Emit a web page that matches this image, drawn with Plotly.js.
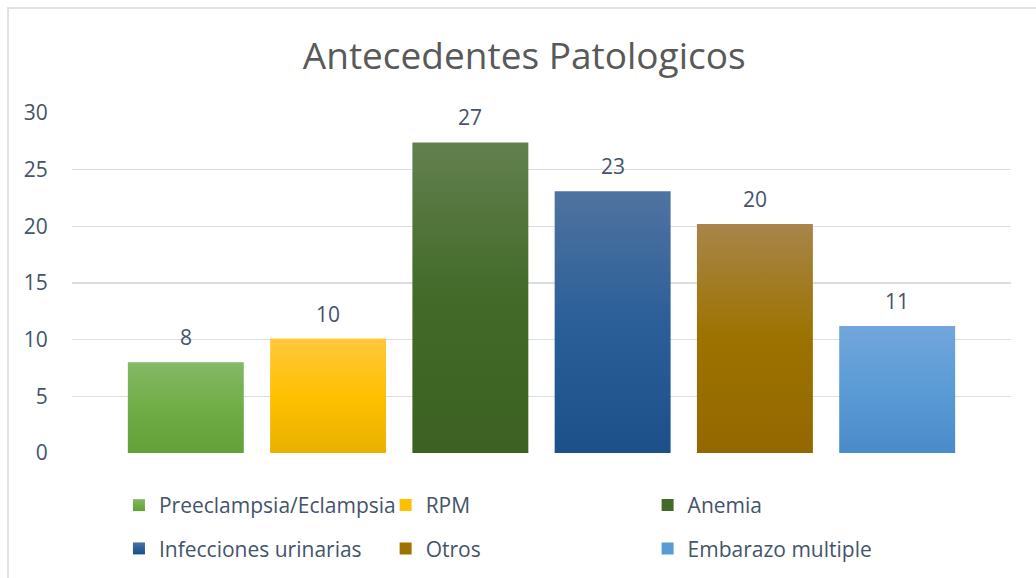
<!DOCTYPE html>
<html>
<head>
<meta charset="utf-8">
<script src="https://cdn.plot.ly/plotly-3.0.1.min.js"></script>
<style>
html,body{margin:0;padding:0;background:#fff;}
#wrap{position:relative;width:1036px;height:578px;overflow:hidden;}
#chart{position:absolute;left:0;top:0;width:1036px;height:578px;}
#frame{position:absolute;left:7px;top:7px;width:1100px;height:700px;border-top:2px solid #dfe3e9;border-left:2px solid #dfe3e9;pointer-events:none;}
</style>
</head>
<body>
<div id="wrap"><div id="chart"></div><div id="frame"></div></div>
<script>
// ---- data ----
const categories = ["Preeclampsia/Eclampsia", "RPM", "Anemia", "Infecciones urinarias", "Otros", "Embarazo multiple"];
const values = [8, 10.1, 27.4, 23.1, 20.2, 11.2];
const labels = ["8", "10", "27", "23", "20", "11"];
const yTicks = [0, 5, 10, 15, 20, 25, 30];

// ---- styles (top, middle, bottom of each bar gradient) ----
const gradients = [
  ["#85b967", "#70ad47", "#63a036"],
  ["#ffc83e", "#ffc000", "#e8b100"],
  ["#62804f", "#436a29", "#3c6122"],
  ["#4f73a0", "#2b5f98", "#1b5089"],
  ["#a8854a", "#9d7200", "#946800"],
  ["#72a6dc", "#5b9bd5", "#4a8aca"]
];
const legendIds = ["legend", "legend2", "legend3"];
const txt = "#44546a";
const font = "Open Sans, Liberation Sans, sans-serif";

const traces = categories.map((c, i) => ({
  type: "bar",
  x: [c],
  y: [values[i]],
  name: c,
  width: 0.815,
  marker: {color: gradients[i][1], line: {width: 0}},
  legend: legendIds[i % 3],
  legendgroup: "g" + i,
  hoverinfo: "skip"
}));

const annotations = categories.map((c, i) => ({
  x: c, y: values[i], text: labels[i], showarrow: false,
  xref: "x", yref: "y", yanchor: "bottom", yshift: 9,
  font: {family: font, size: 21, color: txt}
}));

const legendBase = {
  orientation: "v", yanchor: "top", y: -0.094, xanchor: "left",
  font: {family: font, size: 21, color: txt},
  bgcolor: "rgba(0,0,0,0)", tracegroupgap: 13, traceorder: "grouped"
};

const layout = {
  width: 1036, height: 578,
  margin: {l: 72, r: 25, t: 113, b: 125, autoexpand: false},
  paper_bgcolor: "#fff", plot_bgcolor: "#fff",
  barmode: "overlay",
  title: {text: "Antecedentes Patologicos", x: 0.506, xref: "container", xanchor: "center",
          y: 0.903, yref: "container", yanchor: "middle",
          font: {family: font, size: 37, color: "#595959"}},
  xaxis: {type: "category", range: [-0.8, 5.8], showticklabels: false, ticks: "",
          showgrid: false, zeroline: false, showline: false, fixedrange: true},
  yaxis: {range: [0, 30], tickvals: yTicks, ticktext: yTicks.map(String),
          showgrid: true, gridcolor: "#d9dde4", gridwidth: 1.5, zeroline: false, showline: false,
          ticks: "outside", ticklen: 19, tickcolor: "rgba(0,0,0,0)",
          tickfont: {family: font, size: 21, color: txt}, fixedrange: true},
  showlegend: true,
  legend: Object.assign({}, legendBase, {x: 0.05}),
  legend2: Object.assign({}, legendBase, {x: 0.334}),
  legend3: Object.assign({}, legendBase, {x: 0.613}),
  annotations: annotations
};

function applyGradients(gd) {
  const svg = gd.querySelector("svg.main-svg");
  const ns = "http://www.w3.org/2000/svg";
  let defs = svg.querySelector("defs");
  if (!defs) { defs = document.createElementNS(ns, "defs"); svg.insertBefore(defs, svg.firstChild); }
  gradients.forEach((g, i) => {
    const lg = document.createElementNS(ns, "linearGradient");
    lg.setAttribute("id", "bargrad" + i);
    lg.setAttribute("x1", "0"); lg.setAttribute("y1", "0");
    lg.setAttribute("x2", "0"); lg.setAttribute("y2", "1");
    [[0, g[0]], [0.5, g[1]], [1, g[2]]].forEach(([o, col]) => {
      const s = document.createElementNS(ns, "stop");
      s.setAttribute("offset", o); s.setAttribute("stop-color", col);
      lg.appendChild(s);
    });
    defs.appendChild(lg);
  });
  gd.querySelectorAll(".barlayer .trace").forEach(t => {
    const d = t.__data__;
    const idx = d && d[0] && d[0].trace ? d[0].trace.index : null;
    if (idx === null) return;
    t.querySelectorAll("path").forEach(p => { p.style.fill = "url(#bargrad" + idx + ")"; });
  });
  gd.querySelectorAll(".legend .traces").forEach(t => {
    const d = t.__data__;
    const idx = d && d[0] && d[0].trace ? d[0].trace.index : null;
    if (idx === null) return;
    t.querySelectorAll(".legendpoints path").forEach(p => { p.style.fill = "url(#bargrad" + idx + ")"; });
  });
}

Plotly.newPlot("chart", traces, layout, {displayModeBar: false, staticPlot: true}).then(applyGradients);
</script>
</body>
</html>
